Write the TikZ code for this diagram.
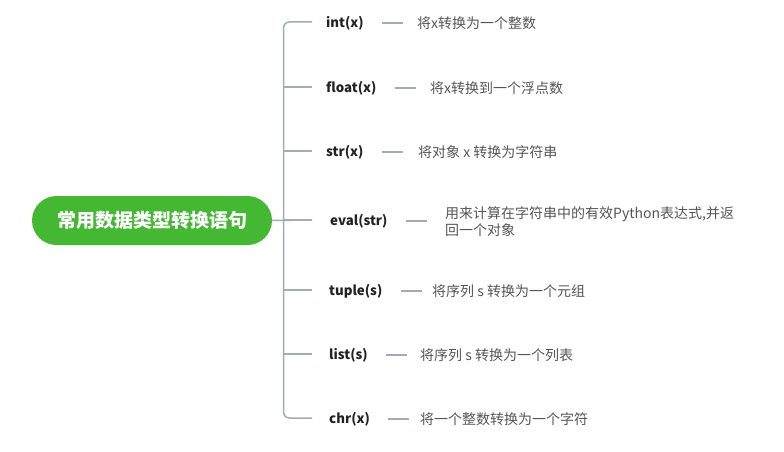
\documentclass[tikz,border=0pt]{standalone}
\usepackage{fontspec}
\setmainfont{Noto Sans CJK SC}
\definecolor{rootgreen}{HTML}{45B833}
\definecolor{linkgray}{HTML}{A3ABBB}
\definecolor{labelink}{HTML}{222222}
\definecolor{descink}{HTML}{555555}
\begin{document}
\begin{tikzpicture}[x=1pt,y=-1pt,
  rootbox/.style={fill=rootgreen,text=white,rounded corners=24.5pt,
    minimum width=240pt,minimum height=49pt,inner sep=0pt,
    font=\fontsize{19}{21}\selectfont\bfseries},
  fnlabel/.style={anchor=west,inner sep=0pt,text=labelink,
    font=\fontsize{13.3}{16}\selectfont\bfseries},
  fndesc/.style={anchor=west,inner sep=0pt,text=descink,align=left,
    font=\fontsize{14}{17}\selectfont},
  link/.style={draw=linkgray,line width=1.5pt},
  dashlink/.style={draw=linkgray,line width=1.3pt}]
\useasboundingbox (0,0) rectangle (784,452);

% root topic
\node[rootbox] (root) at (152,220.5) {常用数据类型转换语句};

% branch ends on the trunk side
\coordinate (b1) at (312,22);
\coordinate (b2) at (312,87);
\coordinate (b3) at (312,151);
\coordinate (b4) at (312,220);
\coordinate (b5) at (312,290);
\coordinate (b6) at (312,354);
\coordinate (b7) at (312,418);

% trunk with rounded ends
\draw[link,rounded corners=6pt] (b1) -- (283.5,22) -- (283.5,418) -- (b7);
\foreach \i in {2,3,4,5,6}{
  \draw[link] (283.5,0 |- b\i) -- (b\i);
}
\draw[link] (root.east) -- (b4);

% function names
\node[fnlabel] (f1) at (326,23)  {int(x)};
\node[fnlabel] (f2) at (326,88)  {float(x)};
\node[fnlabel] (f3) at (326,152) {str(x)};
\node[fnlabel] (f4) at (330,221) {eval(str)};
\node[fnlabel] (f5) at (329,291) {tuple(s)};
\node[fnlabel] (f6) at (329,355) {list(s)};
\node[fnlabel] (f7) at (329,419) {chr(x)};

% descriptions
\node[fndesc] (d1) at (417,23)  {将x转换为一个整数};
\node[fndesc] (d2) at (430,88)  {将x转换到一个浮点数};
\node[fndesc] (d3) at (418,152) {将对象 x 转换为字符串};
\node[fndesc] (d4) at (445,222) {用来计算在字符串中的有效Python表达式,并返\\回一个对象};
\node[fndesc] (d5) at (432,291) {将序列 s 转换为一个元组};
\node[fndesc] (d6) at (420,355) {将序列 s 转换为一个列表};
\node[fndesc] (d7) at (420,419) {将一个整数转换为一个字符};

% short dashes between name and description
\foreach \i in {1,...,7}{
  \draw[dashlink] ([xshift=18pt]f\i.east) -- ([xshift=39pt]f\i.east);
}
\end{tikzpicture}
\end{document}
